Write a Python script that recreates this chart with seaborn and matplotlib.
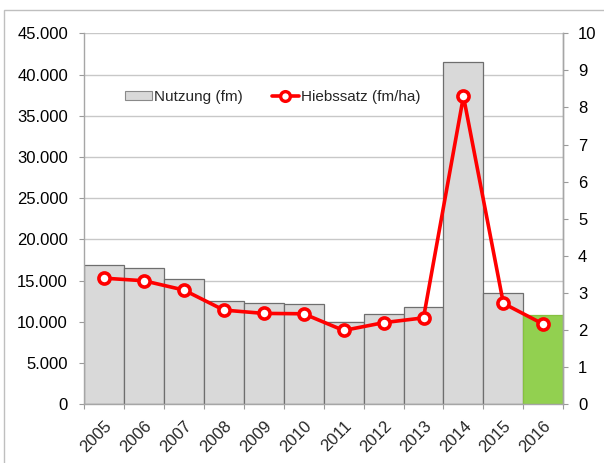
import matplotlib
matplotlib.use("Agg")
import matplotlib.pyplot as plt
import seaborn as sns
import pandas as pd
import numpy as np
from matplotlib.patches import Patch, Rectangle
from matplotlib.lines import Line2D
from matplotlib.ticker import FuncFormatter, MultipleLocator

years = ["2005", "2006", "2007", "2008", "2009", "2010", "2011", "2012", "2013", "2014", "2015", "2016"]
nutzung = [16860, 16570, 15240, 12570, 12250, 12130, 9950, 10990, 11770, 41480, 13540, 10800]
hiebssatz = [3.40, 3.33, 3.08, 2.54, 2.45, 2.44, 1.99, 2.20, 2.33, 8.30, 2.72, 2.16]
bar_colors = ["#d9d9d9"] * 11 + ["#92d050"]

sns.set_theme(style="white")
plt.rcParams["font.family"] = ["Liberation Sans", "DejaVu Sans"]

df = pd.DataFrame({"Jahr": years, "Nutzung": nutzung, "Hiebssatz": hiebssatz})

fig = plt.figure(figsize=(6.04, 4.63), dpi=100)
ax = fig.add_axes([84 / 604, 1 - 404.3 / 463, (563.3 - 84) / 604, (404.3 - 33.3) / 463])

sns.barplot(data=df, x="Jahr", y="Nutzung", hue="Jahr", palette=bar_colors,
            legend=False, width=1.0, ax=ax, edgecolor="#6e6e6e", linewidth=0.9,
            saturation=1.0, zorder=2)
ax.patches[-1].set_edgecolor("#86c040")

ax.set_xlim(-0.5, 11.5)
ax.set_ylim(0, 45000)
ax.yaxis.set_major_locator(MultipleLocator(5000))
ax.yaxis.set_major_formatter(FuncFormatter(lambda v, p: f"{int(v):,}".replace(",", ".")))
ax.grid(axis="y", color="#c8c8c8", linewidth=1.0, zorder=0)
ax.set_axisbelow(True)
ax.set_xlabel("")
ax.set_ylabel("")

fs = 12
ax.tick_params(axis="y", which="major", length=3.6, width=0.8, color="#9a9a9a",
               labelsize=fs, labelcolor="black", pad=8, left=True)
ax.tick_params(axis="x", which="major", length=0, labelsize=fs, pad=10)
ax.set_xticks(np.arange(-0.5, 12.0, 1.0), minor=True)
ax.tick_params(axis="x", which="minor", length=3.6, width=0.8, color="#9a9a9a", bottom=True)
for lbl in ax.get_xticklabels():
    lbl.set_rotation(45)
    lbl.set_ha("right")
    lbl.set_va("top")
    lbl.set_rotation_mode("anchor")

for s in ["left", "right", "bottom"]:
    ax.spines[s].set_color("#a6a6a6")
    ax.spines[s].set_linewidth(1.0)
ax.spines["top"].set_visible(False)

ax2 = ax.twinx()
sns.pointplot(data=df, x="Jahr", y="Hiebssatz", color="#ff0000", ax=ax2,
              markers="o", linestyles="-", linewidth=2.6, markersize=8,
              markerfacecolor="white", markeredgecolor="#ff0000", markeredgewidth=2.6,
              zorder=5)
ax2.set_xlim(-0.5, 11.5)
ax2.set_ylim(0, 10)
ax2.yaxis.set_major_locator(MultipleLocator(1))
ax2.set_ylabel("")
ax2.set_xlabel("")
ax2.tick_params(axis="y", which="major", length=3.6, width=0.8, color="#9a9a9a",
                labelsize=fs, labelcolor="black", pad=7, right=True)
for s in ["left", "top", "bottom"]:
    ax2.spines[s].set_visible(False)
ax2.spines["right"].set_color("#a6a6a6")
ax2.spines["right"].set_linewidth(1.0)
ax2.grid(False)

handles = [
    Patch(facecolor="#d9d9d9", edgecolor="#8a8a8a", linewidth=0.8),
    Line2D([0], [0], color="#ff0000", linewidth=2.6, marker="o", markersize=7,
           markerfacecolor="white", markeredgecolor="#ff0000", markeredgewidth=2.4),
]
ax.legend(handles, ["Nutzung (fm)", "Hiebssatz (fm/ha)"], loc="center left",
          bbox_to_anchor=(0.069, 0.828), ncol=2, frameon=False, fontsize=11,
          borderpad=0, handlelength=1.8, handleheight=0.5, handletextpad=0.1,
          columnspacing=1.9)

fig.patches.append(Rectangle((4 / 604, -0.1), 1.2, 1 - 10 / 463 + 0.1,
                             transform=fig.transFigure, fill=False,
                             edgecolor="#bfbfbf", linewidth=1.0))

fig.savefig("out.png", dpi=100)
